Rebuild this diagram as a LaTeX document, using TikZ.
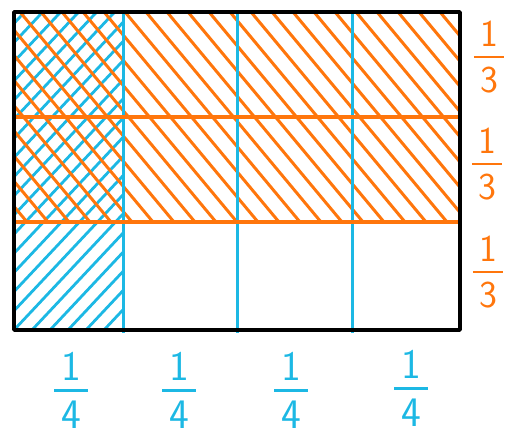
\documentclass[tikz,border=0pt]{standalone}
\usepackage{amsmath}
\usepackage{xcolor}
\usepackage{tikz}

\definecolor{thirdorange}{RGB}{255,118,12}
\definecolor{quarterblue}{RGB}{28,184,228}
\newcommand{\handfrac}[2]{$\genfrac{}{}{2.8pt}{0}{\text{\makebox[0.8em]{#1}}}{\text{#2}}$}

\begin{document}
\begin{tikzpicture}[x=1pt, y=-1pt,
  frame/.style={draw=black, line width=3.4pt, line join=round},
  ohatch/.style={draw=thirdorange, line width=3pt, line cap=round},
  bhatch/.style={draw=quarterblue, line width=2.8pt, line cap=round},
  oline/.style={draw=thirdorange, line width=3.4pt},
  bline/.style={draw=quarterblue, line width=3pt},
  third/.style={text=thirdorange, font=\sffamily\fontsize{38}{40}\selectfont, inner sep=0pt},
  quarter/.style={text=quarterblue, font=\sffamily\fontsize{42}{44}\selectfont, inner sep=0pt}
]
\useasboundingbox (0,0) rectangle (509,435);
% blue hatching, first quarter
\begin{scope}
  \clip (14,12) rectangle (123,330);
  \foreach \a in {-310,-292,...,130}
    \draw[bhatch] (\a,330) -- ++(310,-330);
\end{scope}
% orange hatching, top two thirds
\begin{scope}
  \clip (14,12) rectangle (460,222);
  \foreach \a in {-190,-169,...,470}
    \draw[ohatch] (\a,12) -- ++(175,210);
\end{scope}
% column and row dividers
\foreach \x in {123,237,352}
  \draw[bline] (\x,12) -- (\x,333);
\foreach \y in {117,222}
  \draw[oline] (14,\y) -- (460,\y);
\draw[frame] (14,12) rectangle (460,330);
% labels
\node[third] (t1) at (489,57) {\handfrac{1}{3}};
\node[third] (t2) at (487,164) {\handfrac{1}{3}};
\node[third] (t3) at (488,272) {\handfrac{1}{3}};
\node[quarter] (q1) at (71,390) {\handfrac{1}{4}};
\node[quarter] (q2) at (179,390) {\handfrac{1}{4}};
\node[quarter] (q3) at (291,390) {\handfrac{1}{4}};
\node[quarter] (q4) at (411,388) {\handfrac{1}{4}};
\end{tikzpicture}
\end{document}
